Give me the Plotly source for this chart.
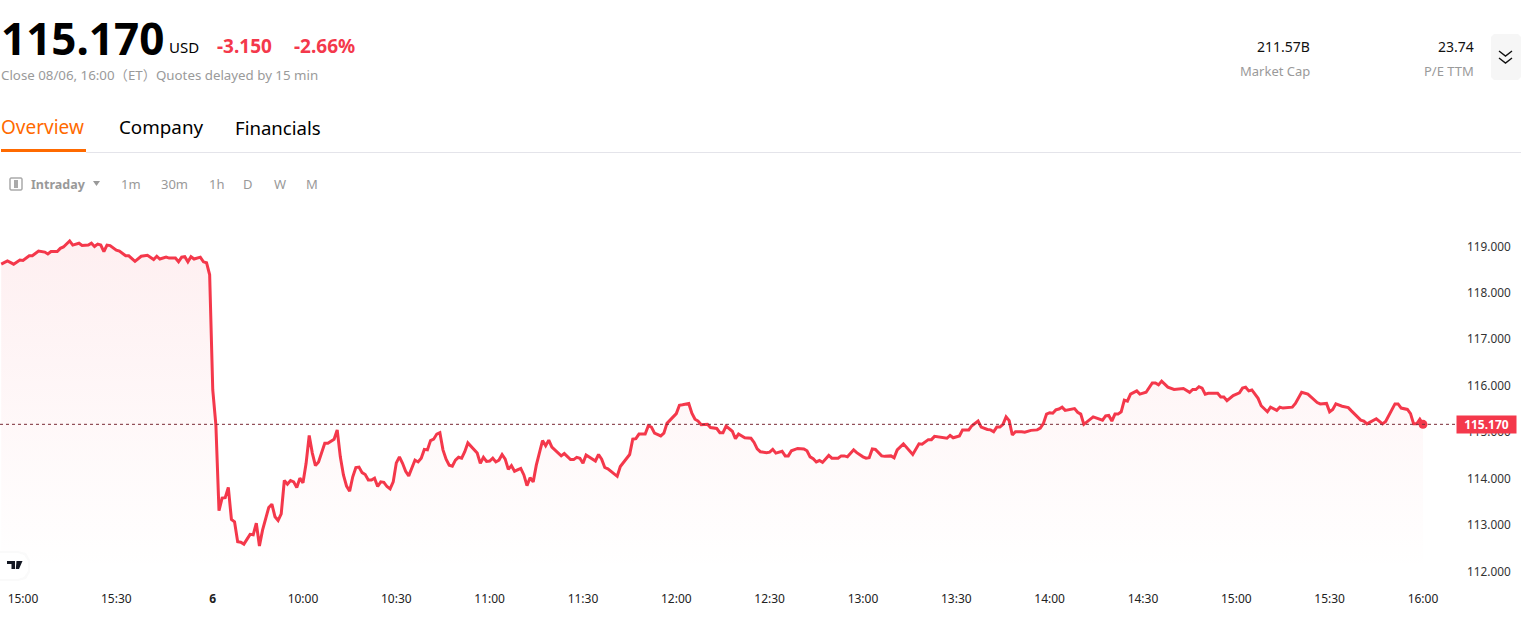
import plotly.graph_objects as go

W, H = 1527, 624
LEFT, RIGHT, TOP, BOTTOM = 0, 1457, 210, 580   # plot rectangle in the page
RED = "#f4384b"
FONT = "Noto Sans, Open Sans, Noto Sans CJK SC, sans-serif"

# minutes from the 15:00 label of the previous session
minutes = [-7,-5,-3,-1,0,2,3,5,7,8,9,11,12,13,15,16,18,19,21,22,23,24,25,26,27,28,30,31,33,34,36,38,40,42,43,44,46,47,49,50,51,52,53,54,55,57,58,59,60,
 61,62,63,64,65,66,67,68,69,70,71,73,74,75,76,77,79,80,81,82,83,84,85,86,87,88,89,90,91,92,93,94,95,97,98,100,101,102,103,104,105,106,107,108,109,110,
 111,112,113,114,115,116,117,118,119,120,121,122,123,124,126,127,128,129,130,131,132,133,134,135,136,137,138,139,140,141,142,143,144,145,146,147,148,149,150,
 151,152,153,154,155,156,157,158,160,161,162,163,164,165,167,168,169,170,173,174,176,177,178,179,180,181,184,185,186,187,188,191,192,195,196,197,198,200,
 201,202,203,205,206,207,210,211,212,214,215,216,217,218,220,221,223,224,225,226,228,229,230,232,234,235,236,237,239,240,241,242,244,245,246,247,249,251,252,
 253,254,255,256,257,259,260,262,263,264,265,267,268,270,271,272,273,274,276,277,279,280,281,283,286,288,289,291,292,293,295,296,297,298,299,301,302,304,305,
 307,308,310,311,312,313,314,315,316,317,318,319,321,322,324,326,327,328,329,330,331,332,333,334,335,338,339,340,341,344,347,348,349,350,351,352,353,354,355,
 356,358,359,361,363,364,365,366,368,370,373,375,376,377,378,379,380,381,384,385,386,387,389,391,392,393,394,395,397,398,400,401,403,404,405,408,409,411,413,
 416,417,419,420,421,422,424,426,427,430,431,432,435,437,438,441,442,443,445,446,447,448,449,450]

prices = [118.62,118.69,118.62,118.71,118.70,118.80,118.80,118.90,118.88,118.84,118.89,118.89,118.96,118.99,119.12,119.03,119.07,119.02,119.03,119.07,119.00,119.05,119.03,118.89,119.03,119.02,118.92,118.90,118.80,118.80,118.68,118.79,118.81,118.72,118.79,118.73,118.77,118.75,118.75,118.67,118.77,118.78,118.67,118.78,118.73,118.77,118.67,118.65,118.39,
 115.91,115.16,113.31,113.58,113.59,113.81,113.12,113.07,112.64,112.63,112.59,112.80,112.79,113.04,112.55,112.89,113.38,113.45,113.18,113.10,113.24,113.96,113.88,113.96,113.93,113.81,114.01,113.91,114.33,114.93,114.55,114.28,114.36,114.76,114.76,114.85,115.05,114.47,114.08,113.84,113.73,114.04,114.24,114.25,114.13,114.09,
 113.97,113.97,114.01,113.83,113.93,113.92,113.83,113.78,113.93,114.34,114.47,114.33,114.16,114.06,114.40,114.36,114.44,114.63,114.62,114.82,114.85,114.96,114.99,114.62,114.42,114.29,114.27,114.40,114.46,114.44,114.58,114.77,114.69,114.62,114.55,114.33,114.46,114.37,114.38,
 114.44,114.36,114.40,114.52,114.42,114.20,114.28,114.16,114.22,114.08,113.85,114.02,113.93,114.29,114.82,114.71,114.83,114.68,114.49,114.54,114.41,114.41,114.46,114.44,114.33,114.51,114.38,114.52,114.42,114.24,114.21,114.05,114.26,114.52,114.85,114.86,114.96,114.96,
 115.14,115.11,114.98,114.92,114.98,115.19,115.40,115.58,115.59,115.62,115.41,115.28,115.24,115.16,115.17,115.10,115.08,114.99,114.99,115.13,115.02,114.86,114.96,114.88,114.87,114.78,114.64,114.58,114.56,114.57,114.63,114.55,114.59,114.49,114.49,114.60,114.65,114.64,114.60,
 114.47,114.43,114.36,114.39,114.35,114.50,114.44,114.44,114.49,114.49,114.47,114.62,114.56,114.47,114.44,114.45,114.64,114.63,114.49,114.48,114.49,114.45,114.62,114.75,114.52,114.75,114.74,114.84,114.84,114.91,114.89,114.88,114.87,114.93,114.88,114.92,115.05,115.05,115.14,
 115.24,115.11,115.06,115.05,115.01,115.11,115.11,115.17,115.33,115.25,114.94,115.01,115.01,115.00,115.04,115.05,115.09,115.19,115.39,115.42,115.41,115.48,115.50,115.54,115.47,115.51,115.43,115.39,115.17,115.33,115.26,115.35,115.36,115.24,115.39,115.39,115.44,115.69,115.67,
 115.82,115.89,115.82,115.86,116.06,116.06,116.02,116.10,115.97,115.92,115.94,115.86,115.92,115.92,115.98,115.95,115.82,115.84,115.84,115.76,115.76,115.68,115.79,115.85,115.95,115.97,115.89,115.91,115.73,115.57,115.44,115.54,115.47,115.54,115.52,115.54,115.62,115.86,115.82,
 115.64,115.61,115.62,115.44,115.49,115.61,115.56,115.53,115.46,115.26,115.24,115.18,115.29,115.18,115.23,115.61,115.61,115.52,115.49,115.40,115.18,115.18,115.28,115.17]

last_price = 115.17
time_ticks = [0,30,61,90,120,150,180,210,240,270,300,330,360,390,420,450]
time_labels = ["15:00","15:30","<b>6</b>","10:00","10:30","11:00","11:30","12:00","12:30","13:00","13:30","14:00","14:30","15:00","15:30","16:00"]
price_ticks = [112,113,114,115,116,117,118,119]
price_labels = ["112.000","113.000","114.000","115.000","116.000","117.000","118.000","119.000"]
tabs = ["Overview","Company","Financials"]
intervals = ["1m","30m","1h","D","W","M"]

# "paper" coordinates run over the plot rectangle, not the whole page
def px(x): return (x - LEFT) / (RIGHT - LEFT)
def py(y): return (BOTTOM - y) / (BOTTOM - TOP)
def path(points, close=False):
    s = "M" + " L".join(f"{px(a):.5f},{py(b):.5f}" for a, b in points)
    return s + (" Z" if close else "")

fig = go.Figure()
fig.add_trace(go.Scatter(x=minutes, y=prices, mode="lines", fill="tozeroy",
    line=dict(color=RED, width=3, shape="linear"),
    fillgradient=dict(type="vertical", start=119.2, stop=112.0,
        colorscale=[[0, "rgba(244,56,75,0.08)"], [1, "rgba(244,56,75,0.0)"]]),
    hoverinfo="skip", showlegend=False))
fig.add_trace(go.Scatter(x=[minutes[-1]], y=[prices[-1]], mode="markers",
    marker=dict(color=RED, size=9), hoverinfo="skip", showlegend=False))

shapes = [
    dict(type="line", xref="x", yref="y", x0=-7.39, x1=460.9, y0=last_price, y1=last_price,
         line=dict(color="#7a2a35", width=1, dash="dot"), layer="above"),
    dict(type="rect", xref="paper", yref="paper", x0=px(1), x1=px(86), y0=py(152), y1=py(149),
         fillcolor="#ff6a00", line_width=0),
    dict(type="line", xref="paper", yref="paper", x0=px(86), x1=px(1521), y0=py(152.5), y1=py(152.5),
         line=dict(color="#e4e4ea", width=1)),
    dict(type="path", xref="paper", yref="paper", fillcolor="#f6f6f6", line_width=0,
         path=path([(1494,34),(1518,34),(1521,37),(1521,77),(1518,80),(1494,80),(1491,77),(1491,37)], True)),
    dict(type="path", xref="paper", yref="paper", line=dict(color="#111", width=1.4),
         path=path([(1499,51),(1505.5,56),(1512,51)])),
    dict(type="path", xref="paper", yref="paper", line=dict(color="#111", width=1.4),
         path=path([(1499,58),(1505.5,63),(1512,58)])),
    dict(type="path", xref="paper", yref="paper", line=dict(color="#aaa", width=1.5), fillcolor="#fff",
         path=path([(11,178),(21,178),(22,179),(22,189),(21,190),(11,190),(10,189),(10,179)], True)),
    dict(type="rect", xref="paper", yref="paper", x0=px(14), x1=px(18), y0=py(188), y1=py(180),
         fillcolor="#aaa", line_width=0),
    dict(type="path", xref="paper", yref="paper", fillcolor="#999", line_width=0,
         path=path([(93,181),(100,181),(96.5,186)], True)),
    dict(type="path", xref="paper", yref="paper", fillcolor="#fafafa", line_width=0,
         path=path([(0,551),(18,551),(26,553),(30,560),(30,572),(26,579),(18,581),(0,581)], True)),
    dict(type="path", xref="paper", yref="paper", fillcolor="#ffffff", line_width=0,
         path=path([(0,553),(18,553),(24,555),(28,561),(28,571),(24,577),(18,579),(0,579)], True)),
    dict(type="path", xref="paper", yref="paper", fillcolor="#131722", line_width=0,
         path=path([(7,561),(15,561),(15,569),(11.5,569),(11.5,564),(7,564)], True)),
    dict(type="path", xref="paper", yref="paper", fillcolor="#131722", line_width=0,
         path=path([(16.5,561),(22.5,561),(19,569),(15.8,569)], True)),
]

def label(x, y, text, size, color="#000", anchor="left", **kw):
    return dict(xref="paper", yref="paper", x=px(x), y=py(y), text=text, showarrow=False,
                xanchor=anchor, yanchor="middle", align=anchor,
                font=dict(family=FONT, size=size, color=color), borderpad=0, **kw)

annotations = [
    label(0, 38, "<b>115.170</b>", 44),
    label(168, 47, "USD", 15),
    label(216, 46, "<b>-3.150</b>", 19, RED),
    label(293, 46, "<b>-2.66%</b>", 19, RED),
    label(0, 75, "Close 08/06, 16:00（ET）Quotes delayed by 15 min", 13.3, "#9a9a9a"),
    label(1311, 46, "211.57B", 14, "#111", "right"),
    label(1311, 71, "Market Cap", 13, "#9a9a9a", "right"),
    label(1475, 46, "23.74", 14, "#111", "right"),
    label(1475, 71, "P/E TTM", 13, "#9a9a9a", "right"),
    label(0, 127, tabs[0], 19, "#ff6a00"),
    label(117.5, 127, tabs[1], 18.8),
    label(233.5, 127, tabs[2], 18.6),
    label(30, 184, "<b>Intraday</b>", 12.5, "#999"),
]
for name, x in zip(intervals, [131, 174, 216, 248, 280, 312]):
    annotations.append(label(x, 184, name, 13, "#999", "center"))
annotations.append(dict(xref="paper", yref="y", x=px(1486.5), y=last_price, text="<b>115.170</b>", showarrow=False,
    xanchor="center", yanchor="middle", width=59, height=17, bgcolor=RED, borderpad=0,
    font=dict(family=FONT, size=12, color="#fff")))

fig.update_layout(
    width=W, height=H, autosize=False,
    margin=dict(l=LEFT, r=W - RIGHT, t=TOP, b=H - BOTTOM, pad=0),
    paper_bgcolor="#fff", plot_bgcolor="#fff", showlegend=False,
    font=dict(family=FONT, size=12, color="#333"),
    shapes=shapes, annotations=annotations,
    xaxis=dict(range=[-7.39, 460.94], tickmode="array", tickvals=time_ticks, ticktext=time_labels,
               showgrid=False, zeroline=False, showline=False, ticks="", ticklabelstandoff=10,
               tickfont=dict(family=FONT, size=12, color="#222")),
    yaxis=dict(side="right", range=[111.817, 119.786], tickmode="array", tickvals=price_ticks, ticktext=price_labels,
               showgrid=False, zeroline=False, showline=False, ticks="", ticklabelstandoff=9,
               tickfont=dict(family=FONT, size=11.8, color="#333")),
)

fig.write_html("out.html", config=dict(displayModeBar=False),
               post_script="document.body.style.margin='0';document.body.style.overflow='hidden';")
